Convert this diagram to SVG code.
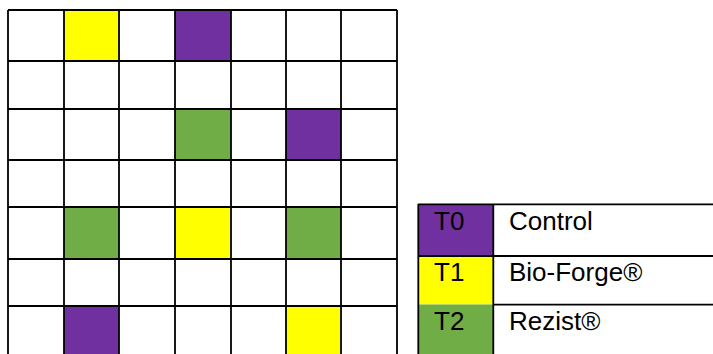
<svg xmlns="http://www.w3.org/2000/svg" width="713" height="354" viewBox="0 0 713 354">
<style>
.p{fill:#7030A0}.y{fill:#FFFF00}.g{fill:#70AD47}
.ln{stroke:#000;stroke-width:1.8;fill:none}
.t{font-family:"Liberation Sans",Arial,sans-serif;font-size:26px;fill:#000}
</style>
<rect width="713" height="354" fill="#fff"/>
<g id="grid">
<rect class="y" x="64" y="10" width="55" height="51"/>
<rect class="p" x="175" y="10" width="56" height="51"/>
<rect class="g" x="175" y="109" width="56" height="51"/>
<rect class="p" x="286" y="109" width="55" height="51"/>
<rect class="g" x="64" y="207" width="55" height="52"/>
<rect class="y" x="175" y="207" width="56" height="52"/>
<rect class="g" x="286" y="207" width="55" height="52"/>
<rect class="p" x="64" y="306" width="55" height="48"/>
<rect class="y" x="286" y="306" width="55" height="48"/>
<path class="ln" d="M8,10H397M8,61H397M8,109H397M8,160H397M8,207H397M8,259H397M8,306H397M8,10V354M64,10V354M119,10V354M175,10V354M231,10V354M286,10V354M341,10V354M397,10V354"/>
</g>
<g id="legend">
<g id="t0">
<rect class="p" x="418" y="204" width="75" height="52"/>
<text class="t" x="434" y="229.5">T0</text>
<text class="t" x="509" y="229.5">Control</text>
</g>
<g id="t1">
<rect class="y" x="418" y="256" width="75" height="48.5"/>
<text class="t" x="434" y="281">T1</text>
<text class="t" x="509" y="281">Bio-Forge®</text>
</g>
<g id="t2">
<rect class="g" x="418" y="304.5" width="75" height="49.5"/>
<text class="t" x="434" y="329.5">T2</text>
<text class="t" x="509" y="329.5">Rezist®</text>
</g>
<path class="ln" d="M418,204.3H713M418,256H713M493,304.7H713M418.3,204V354M493.3,204V354"/>
</g>
</svg>
